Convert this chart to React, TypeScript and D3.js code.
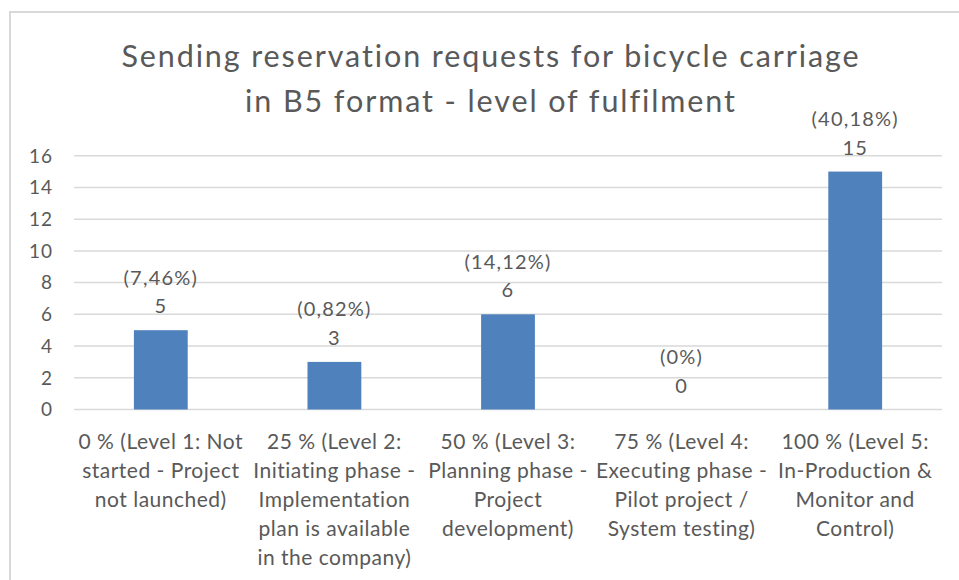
import React from 'react';
import * as d3 from 'd3';

const W = 959;
const H = 580;

const titleLines = ['Sending reservation requests for bicycle carriage', 'in B5 format - level of fulfilment'];

const categories = [
  ['0 % (Level 1: Not', 'started - Project', 'not launched)'],
  ['25 % (Level 2:', 'Initiating phase -', 'Implementation', 'plan is available', 'in the company)'],
  ['50 % (Level 3:', 'Planning phase -', 'Project', 'development)'],
  ['75 % (Level 4:', 'Executing phase -', 'Pilot project /', 'System testing)'],
  ['100 % (Level 5:', 'In-Production &', 'Monitor and', 'Control)'],
];
const counts = [5, 3, 6, 0, 15];
const shares = ['(7,46%)', '(0,82%)', '(14,12%)', '(0%)', '(40,18%)'];
const yTicks = [0, 2, 4, 6, 8, 10, 12, 14, 16];

const FONT = 'Lato, "Open Sans", sans-serif';
const TEXT = '#595959';
const BAR = '#4f81bd';
const GRID = '#d9d9d9';

const App = () => {
  const left = 74;
  const right = 942;
  const top = 155.7;
  const bottom = 409.5;

  const x = d3
    .scaleBand<number>()
    .domain(counts.map((_, i) => i))
    .range([left, right])
    .paddingInner(0.69)
    .paddingOuter(0.345);

  const y = d3.scaleLinear().domain([0, 16]).range([bottom, top]);

  return (
    <div style={{ position: 'absolute', left: 0, top: 0 }}>
      <svg width={W} height={H} style={{ display: 'block', background: '#fff' }}>
        {/* chart frame */}
        <rect x={10} y={12} width={W + 10} height={H + 10} fill="none" stroke={GRID} strokeWidth={2} />

        {titleLines.map((t, i) => (
          <text
            key={i}
            x={491}
            y={66.7 + i * 45}
            textAnchor="middle"
            fontFamily={FONT}
            fontSize={30.5}
            letterSpacing={1.9}
            fill={TEXT}
          >
            {t}
          </text>
        ))}

        {yTicks.map((v) => (
          <g key={v}>
            <line x1={left} x2={right} y1={y(v)} y2={y(v)} stroke={GRID} strokeWidth={1.5} />
            <text
              x={53}
              y={y(v)}
              dy="0.36em"
              textAnchor="end"
              fontFamily={FONT}
              fontSize={19}
              letterSpacing={1}
              fill={TEXT}
            >
              {v}
            </text>
          </g>
        ))}

        {counts.map((c, i) => {
          const bx = x(i)!;
          const cx = bx + x.bandwidth() / 2;
          const yt = y(c);
          return (
            <g key={i}>
              <rect x={bx} y={yt} width={x.bandwidth()} height={bottom - yt} fill={BAR} />
              <text x={cx} y={yt - 17} textAnchor="middle" fontFamily={FONT} fontSize={20} letterSpacing={1.2} fill={TEXT}>
                {c}
              </text>
              <text x={cx} y={yt - 45.5} textAnchor="middle" fontFamily={FONT} fontSize={20} letterSpacing={1.2} fill={TEXT}>
                {shares[i]}
              </text>
              {categories[i].map((line, j) => (
                <text
                  key={j}
                  x={cx}
                  y={449 + j * 29.1}
                  textAnchor="middle"
                  fontFamily={FONT}
                  fontSize={21}
                  letterSpacing={0.5}
                  fill={TEXT}
                >
                  {line}
                </text>
              ))}
            </g>
          );
        })}
      </svg>
    </div>
  );
};

export default App;
